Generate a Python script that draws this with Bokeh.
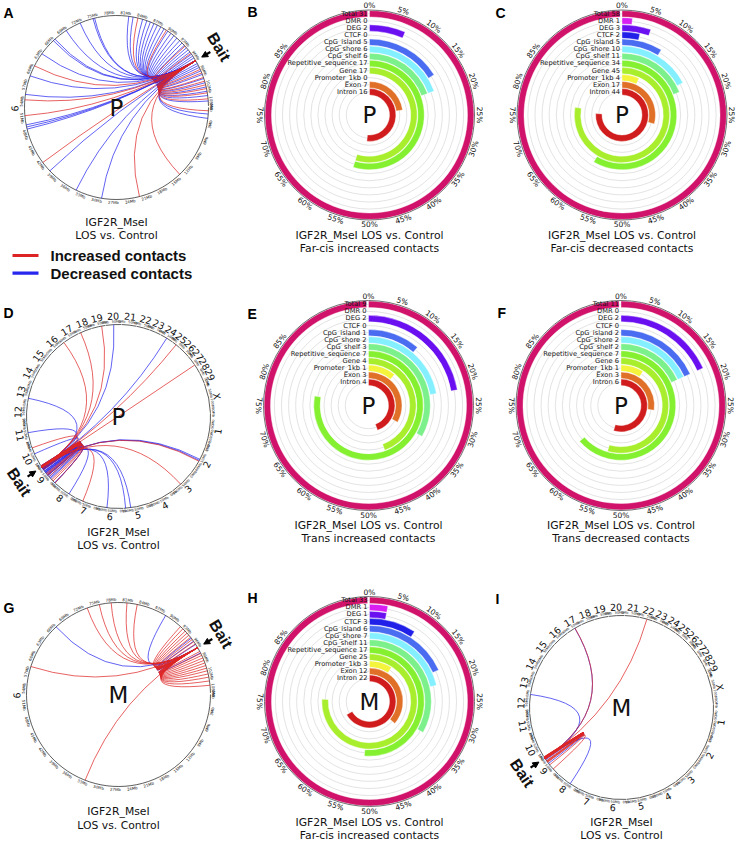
import math
import numpy as np
from bokeh.plotting import figure
from bokeh.models import Range1d, ColumnDataSource, Arrow, NormalHead
from bokeh.embed import file_html
from bokeh.resources import INLINE
from bokeh.core.properties import value

# ---------------------------------------------------------------- data
features = ["Total", "DMR", "DEG", "CTCF", "CpG_island", "CpG_shore", "CpG_shelf",
            "Repetitive_sequence", "Gene", "Promoter_1kb", "Exon", "Intron"]
feature_colors = ["#d1126b", "#d81ef0", "#6a10f0", "#2020e8", "#4a6cf0", "#84f0ff",
                  "#7cf08a", "#84f030", "#a8ee2c", "#f4f43c", "#e07028", "#d01c1c"]
counts_B = [31, 0, 2, 0, 5, 6, 6, 17, 17, 0, 7, 16]
counts_C = [58, 1, 3, 2, 5, 10, 11, 34, 45, 4, 17, 44]
counts_E = [9, 0, 2, 0, 1, 2, 3, 7, 4, 1, 3, 4]
counts_F = [11, 0, 2, 0, 2, 2, 2, 7, 6, 1, 3, 6]
counts_H = [33, 1, 1, 3, 6, 7, 11, 17, 25, 3, 12, 22]
pct_ticks = list(range(0, 90, 5))

chr9_len = 105.5
chr9_ticks = list(range(0, 106, 3))
bait_pos = 96.8

# far-cis contacts on chr9 (target positions, Mb)
A_increased = [13.7, 22.2, 42.1, 51.4, 54.3, 60.8, 83.3, 89.0, 93.5, 95.2, 98.6, 99.3,
               100.2, 100.9, 101.6, 102.3, 103.1, 104.2, 0.6]
A_decreased = [29.2, 34.1, 40.1, 48.9, 49.3, 49.7, 55.3, 58.8, 63.4, 66.6, 67.0, 69.6,
               72.5, 75.0, 75.3, 81.6, 82.4, 84.2, 85.0, 85.7, 86.4, 87.1, 87.8, 88.5,
               89.3, 90.0, 90.7, 91.4, 92.1, 92.7, 93.3, 93.9, 94.4, 94.9, 95.4, 95.8,
               96.2, 97.4, 97.8, 98.2, 98.9, 99.6, 100.4, 101.2, 102.0, 102.8, 103.6,
               104.6, 1.2, 2.0]
G_increased = [32.7, 58.1, 73.5, 75.8, 78.0, 80.9, 82.8, 91.8, 92.4, 93.0, 93.5, 94.0,
               94.5, 95.0, 95.5, 96.0, 97.6, 98.0, 98.4, 98.9, 99.4, 99.9, 100.4, 100.9,
               101.4, 102.0, 102.6, 103.3, 104.1]
G_decreased = [66.8, 88.4, 94.7, 95.4, 96.1, 97.9]

chrom_names = [str(i) for i in range(1, 30)] + ["X"]
chrom_sizes = [158.5, 136.2, 121.0, 120.0, 120.1, 117.8, 110.7, 113.3, 105.5, 103.3,
               107.0, 87.2, 83.5, 82.4, 85.0, 81.0, 73.2, 65.8, 63.4, 72.0, 69.9, 60.8,
               52.5, 62.3, 42.4, 52.0, 45.6, 45.9, 51.1, 139.0]
genome_ticks = [0, 50, 100, 150]

D_trans_inc_chr = ["2", "3", "7", "10", "16", "18", "19", "25", "28"]
D_trans_inc_pos = [72, 71, 73, 90, 79, 11, 46, 21, 3]
D_trans_dec_chr = ["2", "2", "5", "5", "6", "8", "10", "11", "13", "20", "24"]
D_trans_dec_pos = [62, 68, 87, 111, 76, 33, 60, 58, 21, 37, 32]
I_trans_inc_chr = ["17", "22"]
I_trans_inc_pos = [41, 33]
I_trans_dec_chr = ["17", "12", "8"]
I_trans_dec_pos = [40, 86, 43]

# ---------------------------------------------------------------- style
FONT = "DejaVu Sans"
BOLD_FONT = "Liberation Sans"
RED = "#dd2424"
BLUE = "#2626ee"
RING0, RING_STEP, RING_W = 101.2, 7.09, 6.4
PCT_R = 109.5
R_CIRC = 92.0
G_THETA0, G_SCALE, G_GAP = 88.0, 0.13354, 0.3

p = figure(width=736, height=841, x_range=Range1d(0, 736), y_range=Range1d(0, 841),
           output_backend="svg", toolbar_location=None, min_border=0,
           x_axis_location=None, y_axis_location=None)
p.xgrid.visible = False
p.ygrid.visible = False
p.outline_line_color = None
p.background_fill_color = "white"


def Y(py):
    return 841 - py


def upright(theta):
    t = theta % 360
    if t <= 90:
        r = -t
    elif t <= 270:
        r = 180 - t
    else:
        r = 360 - t
    return math.radians(r)


def polar(cx, cy, theta, r):
    th = math.radians(theta)
    return cx + r * math.sin(th), cy + r * math.cos(th)


def txt(xs, ys, texts, size, angles=None, align="center", baseline="middle",
        font=FONT, style="normal", color="#111111"):
    src = ColumnDataSource(dict(x=list(xs), y=list(ys), t=list(texts),
                                a=list(angles) if angles is not None else [0.0] * len(xs)))
    p.text(x="x", y="y", text="t", angle="a", source=src, text_font=value(font),
           text_font_size=f"{size}px", text_align=align, text_baseline=baseline,
           text_font_style=style, text_color=color)


def radial_panel(cx, cy_px, counts, centre, subtitle, t1, t2):
    cy = Y(cy_px)
    total = counts[0]
    radii = [RING0 - RING_STEP * i for i in range(len(features))]
    p.circle(x=[cx] * len(radii), y=[cy] * len(radii), radius=radii,
             fill_color=None, line_color="#dcdcdc", line_width=0.8)
    d = dict(x=[], y=[], ir=[], orr=[], s=[], e=[], c=[])
    for f, c, r, col in zip(features, counts, radii, feature_colors):
        if c == 0:
            continue
        frac = min(c / total, 0.997)
        d["x"].append(cx); d["y"].append(cy)
        d["ir"].append(r - RING_W / 2); d["orr"].append(r + RING_W / 2)
        d["s"].append(math.pi / 2 - 2 * math.pi * frac); d["e"].append(math.pi / 2)
        d["c"].append(col)
    p.annular_wedge(x="x", y="y", inner_radius="ir", outer_radius="orr",
                    start_angle="s", end_angle="e", direction="anticlock",
                    fill_color="c", line_color="white", line_width=0.4,
                    source=ColumnDataSource(d))
    p.circle(x=[cx], y=[cy], radius=[RING0 + RING_W / 2 + 0.6], fill_color=None,
             line_color="#707070", line_width=1)
    txt([cx - 2] * len(features), [cy + r for r in radii],
        [f"{f} {c}" for f, c in zip(features, counts)], 6.7, align="right")
    thetas = [t * 3.6 for t in pct_ticks]
    pts = [polar(cx, cy, th, PCT_R) for th in thetas]
    txt([q[0] for q in pts], [q[1] for q in pts], [f"{t}%" for t in pct_ticks], 7.5,
        angles=[upright(th) for th in thetas])
    txt([cx], [cy], [centre], 23)
    txt([cx, cx], [Y(t1), Y(t2)], ["IGF2R_MseI LOS vs. Control", subtitle], 10.8)


def draw_links(cx, cy, bait_xy, targets, color):
    d = dict(x0=[], y0=[], x1=[], y1=[], cx=[], cy=[])
    for (tx, ty) in targets:
        d["x0"].append(bait_xy[0]); d["y0"].append(bait_xy[1])
        d["x1"].append(tx); d["y1"].append(ty)
        d["cx"].append(cx); d["cy"].append(cy)
    p.quadratic(x0="x0", y0="y0", x1="x1", y1="y1", cx="cx", cy="cy",
                source=ColumnDataSource(d), line_color=color, line_width=0.9, line_alpha=0.8)


def bait_marker(cx, cy, theta):
    xs, ys = polar(cx, cy, theta, R_CIRC + 17)
    xe, ye = polar(cx, cy, theta, R_CIRC + 7)
    p.add_layout(Arrow(x_start=xs, y_start=ys, x_end=xe, y_end=ye, line_width=2.2,
                       line_color="black",
                       end=NormalHead(size=6, fill_color="black", line_color="black")))
    bx, by = polar(cx, cy, theta, R_CIRC + 27)
    txt([bx], [by], ["Bait"], 16, angles=[upright(theta)], font=BOLD_FONT, style="bold")


def chr9_panel(cx, cy_px, inc, dec, centre, t1, t2):
    cy = Y(cy_px)

    def ang(pos):
        return 90 + pos / chr9_len * 359.0

    p.arc(x=[cx], y=[cy], radius=[R_CIRC], start_angle=[math.radians(90 - ang(chr9_len))],
          end_angle=[math.radians(90 - ang(0))], direction="anticlock",
          line_color="#333333", line_width=0.8)
    pts = [polar(cx, cy, ang(t), R_CIRC + 3.0) for t in chr9_ticks]
    txt([q[0] for q in pts], [q[1] for q in pts], [f"{t}Mb" for t in chr9_ticks], 3.9,
        angles=[upright(ang(t)) for t in chr9_ticks])
    lx, ly = polar(cx, cy, ang(chr9_len / 2), R_CIRC + 9.5)
    txt([lx], [ly], ["9"], 9.5, angles=[upright(ang(chr9_len / 2))])
    bait_xy = polar(cx, cy, ang(bait_pos), R_CIRC)
    draw_links(cx, cy, bait_xy, [polar(cx, cy, ang(t), R_CIRC) for t in dec], BLUE)
    draw_links(cx, cy, bait_xy, [polar(cx, cy, ang(t), R_CIRC) for t in inc], RED)
    bait_marker(cx, cy, ang(bait_pos))
    txt([cx], [cy], [centre], 23)
    txt([cx, cx], [Y(t1), Y(t2)], ["IGF2R_MseI", "LOS vs. Control"], 10.8)


cum = list(np.cumsum([0.0] + chrom_sizes[:-1]))


def gang(ci, pos):
    return G_THETA0 + (cum[ci] + pos) * G_SCALE + ci * G_GAP


def genome_panel(cx, cy_px, cis_inc, cis_dec, tr_inc_c, tr_inc_p, tr_dec_c, tr_dec_p,
                 centre, t1, t2):
    cy = Y(cy_px)
    d = dict(x=[], y=[], s=[], e=[])
    tx, ty, tt, ta = [], [], [], []
    lx, ly, lt, la = [], [], [], []
    for ci, (nm, sz) in enumerate(zip(chrom_names, chrom_sizes)):
        d["x"].append(cx); d["y"].append(cy)
        d["s"].append(math.radians(90 - gang(ci, sz)))
        d["e"].append(math.radians(90 - gang(ci, 0)))
        for t in genome_ticks:
            if t <= sz:
                q = polar(cx, cy, gang(ci, t), R_CIRC + 2.8)
                tx.append(q[0]); ty.append(q[1]); tt.append(f"{t}Mb")
                ta.append(upright(gang(ci, t)))
        q = polar(cx, cy, gang(ci, sz / 2), R_CIRC + 8.5)
        lx.append(q[0]); ly.append(q[1]); lt.append(nm); la.append(upright(gang(ci, sz / 2)))
    p.arc(x="x", y="y", radius=R_CIRC, start_angle="s", end_angle="e",
          direction="anticlock", source=ColumnDataSource(d), line_color="#333333",
          line_width=0.8)
    txt(tx, ty, tt, 3.4, angles=ta)
    txt(lx, ly, lt, 9.5, angles=la)
    b = chrom_names.index("9")
    bait_xy = polar(cx, cy, gang(b, bait_pos), R_CIRC)
    dec_pts = [polar(cx, cy, gang(b, t), R_CIRC) for t in cis_dec]
    dec_pts += [polar(cx, cy, gang(chrom_names.index(c), q), R_CIRC)
                for c, q in zip(tr_dec_c, tr_dec_p)]
    inc_pts = [polar(cx, cy, gang(b, t), R_CIRC) for t in cis_inc]
    inc_pts += [polar(cx, cy, gang(chrom_names.index(c), q), R_CIRC)
                for c, q in zip(tr_inc_c, tr_inc_p)]
    draw_links(cx, cy, bait_xy, dec_pts, BLUE)
    draw_links(cx, cy, bait_xy, inc_pts, RED)
    bait_marker(cx, cy, gang(b, bait_pos))
    txt([cx], [cy], [centre], 23)
    txt([cx, cx], [Y(t1), Y(t2)], ["IGF2R_MseI", "LOS vs. Control"], 10.8)


# ---------------------------------------------------------------- panels
chr9_panel(116, 107, A_increased, A_decreased, "P", 221.7, 235)
radial_panel(369, 114.5, counts_B, "P", "Far-cis increased contacts", 235, 248.3)
radial_panel(621.5, 114.5, counts_C, "P", "Far-cis decreased contacts", 235, 248.3)
genome_panel(118, 416, A_increased, A_decreased, D_trans_inc_chr, D_trans_inc_pos,
             D_trans_dec_chr, D_trans_dec_pos, "P", 532.3, 544.5)
radial_panel(368, 405, counts_E, "P", "Trans increased contacts", 525, 538.3)
radial_panel(620.5, 405, counts_F, "P", "Trans decreased contacts", 525, 538.3)
chr9_panel(118, 694, G_increased, G_decreased, "M", 810.7, 824.5)
radial_panel(369, 701, counts_H, "M", "Far-cis increased contacts", 821.5, 834.5)
genome_panel(621, 707, G_increased, G_decreased, I_trans_inc_chr, I_trans_inc_pos,
             I_trans_dec_chr, I_trans_dec_pos, "M", 821.5, 834.5)

# legend
p.segment(x0=[12, 12], y0=[Y(255), Y(272.7)], x1=[38, 38], y1=[Y(255), Y(272.7)],
          line_color=[RED, BLUE], line_width=3.2)
txt([50, 50], [Y(255), Y(272.7)], ["Increased contacts", "Decreased contacts"], 15,
    align="left", font=BOLD_FONT, style="bold")

# panel letters
letters = ["A", "B", "C", "D", "E", "F", "G", "H", "I"]
letter_x = [3, 247, 495, 3, 247, 497, 3, 247, 495]
letter_y = [12, 11, 12, 312, 313, 312, 607, 597, 598]
txt(letter_x, [Y(v) for v in letter_y], letters, 14, align="left", font=BOLD_FONT,
    style="bold", color="#000000")

open("out.html", "w").write(file_html(p, INLINE))
